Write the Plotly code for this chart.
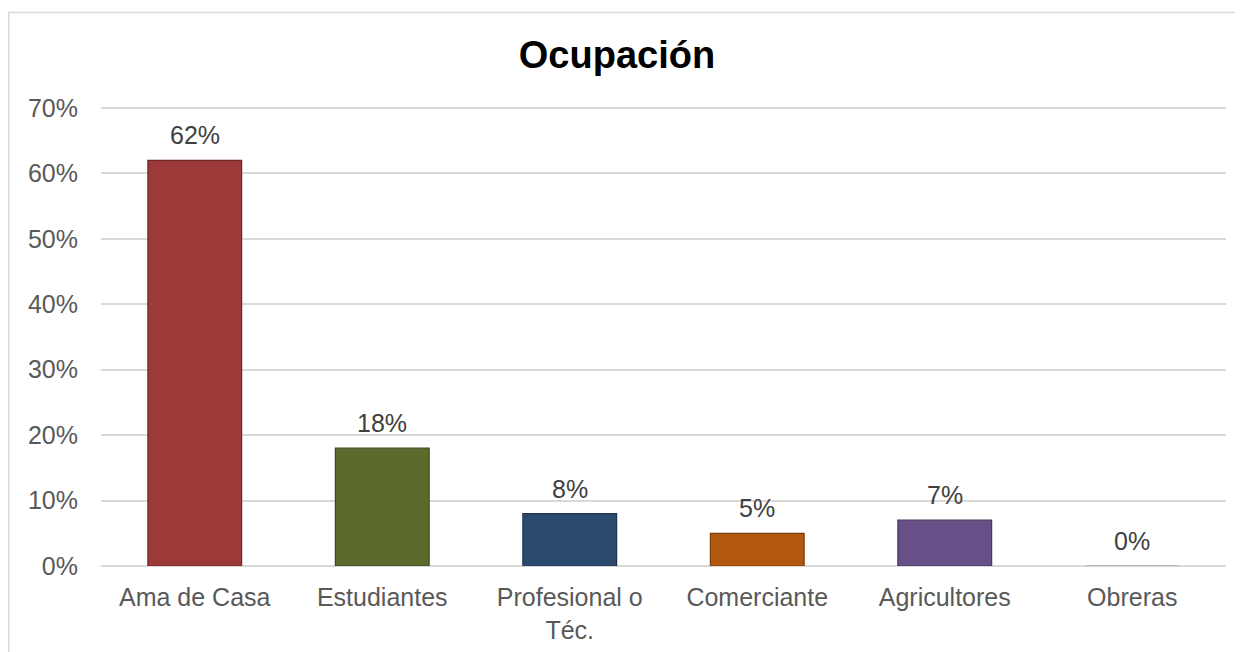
import plotly.graph_objects as go

categories = ["Ama de Casa", "Estudiantes", "Profesional o<br>Téc.", "Comerciante", "Agricultores", "Obreras"]
values = [0.62, 0.18, 0.08, 0.05, 0.07, 0.0]
labels = ["62%", "18%", "8%", "5%", "7%", "0%"]
colors = ["#9B3A38", "#5A6B2C", "#2C4A6E", "#B2580F", "#665087", "#999999"]
line_colors = ["#6E2725", "#3E4A1E", "#1E334D", "#7A3C08", "#47385E", "#999999"]
tick_vals = [0, 0.1, 0.2, 0.3, 0.4, 0.5, 0.6, 0.7]
tick_text = ["0%", "10%", "20%", "30%", "40%", "50%", "60%", "70%"]

# page has an 8px body margin; figure coords = page coords - 8
OFF = 8
W, H = 1243 - OFF, 652 - OFF
YMAX = 0.7
YTOP = 0.703
plot_bottom_page = 566
plot_top70_page = 108
ph = (plot_bottom_page - plot_top70_page) * YTOP / YMAX
ml, mr = 101 - OFF, 17
mb = 86
mt = H - mb - ph

FONT = "Liberation Sans, Arial"

fig = go.Figure()
fig.add_trace(go.Bar(
    x=categories, y=values,
    marker=dict(color=colors, line=dict(color=line_colors, width=1.2)),
    width=0.5,
    showlegend=False,
    hoverinfo="x+y",
))

for c, v, t in zip(categories, values, labels):
    fig.add_annotation(x=c, y=v, text=t, showarrow=False, yanchor="middle", yshift=25,
                       font=dict(family=FONT, size=25, color="#404040"))

pw = W - ml - mr
fig.add_shape(type="rect", xref="paper", yref="paper",
              x0=(0.75 - ml) / pw, x1=(W + 20 - ml) / pw,
              y0=-(H + 20 - mt - ph) / ph, y1=1 + (mt - 4.5) / ph,
              line=dict(color="#D9D9D9", width=1.5), layer="below")

fig.update_layout(
    width=W, height=H,
    margin=dict(l=ml, r=mr, t=mt, b=mb, autoexpand=False),
    paper_bgcolor="white", plot_bgcolor="white",
    title=dict(text="<b>Ocupación</b>", x=(617 - OFF) / W, xanchor="center", y=1 - 47 / H, yanchor="middle",
               font=dict(family=FONT, size=38, color="#000000")),
    xaxis=dict(showgrid=False, showline=False, ticks="", ticklabelstandoff=14, automargin=False,
               tickfont=dict(family=FONT, size=25, color="#595959")),
    yaxis=dict(range=[0, YTOP], tickvals=tick_vals, ticktext=tick_text, automargin=False,
               showgrid=True, gridcolor="#D9D9D9", gridwidth=1.5,
               zeroline=True, zerolinecolor="#D9D9D9", zerolinewidth=1.5,
               showline=False, ticks="", ticklabelstandoff=22,
               tickfont=dict(family=FONT, size=25, color="#595959")),
    bargap=0.5,
)

fig.write_html("out.html")
